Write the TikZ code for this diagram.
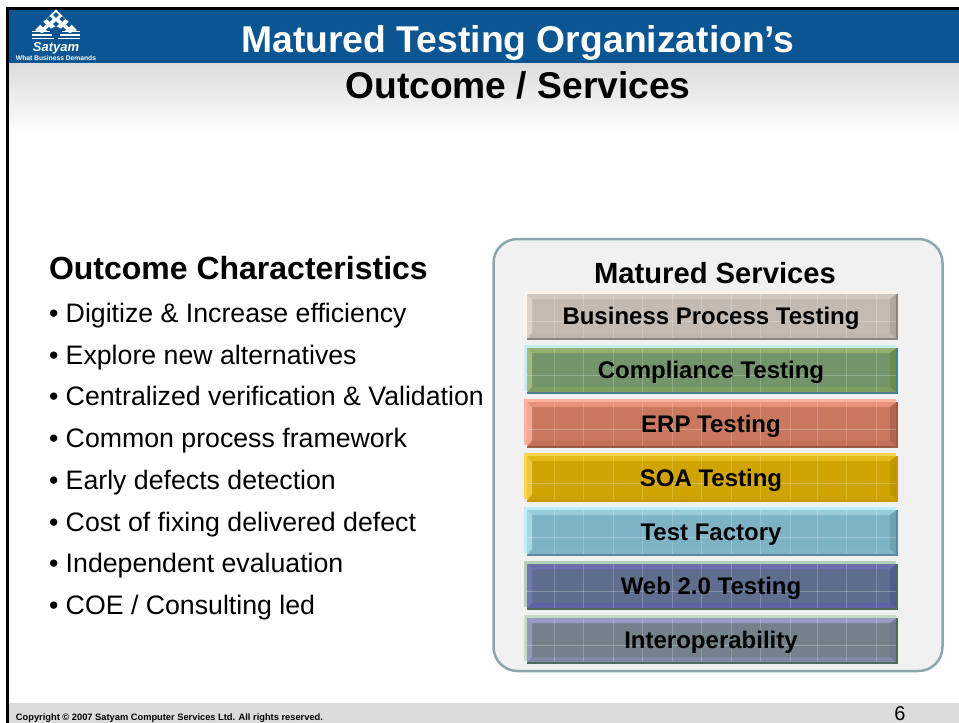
\documentclass[tikz,border=0pt]{standalone}
\usepackage{fontspec}
\setmainfont{Liberation Sans}
\definecolor{hdrblue}{HTML}{0B5592}
\definecolor{panelfill}{HTML}{F1F1F1}
\definecolor{paneledge}{HTML}{8AA8AC}
\definecolor{footgrey}{HTML}{DCDCDC}
\newcommand{\fs}[1]{\fontsize{#1}{#1}\selectfont}
\newcommand{\bevelbar}[8]{%
 % #1 top y, #2 rim, #3 topbevel, #4 left bevel, #5 base, #6 right bevel, #7 bottom bevel, #8 edge
 \definecolor{bbrim}{HTML}{#2}\definecolor{bbtop}{HTML}{#3}\definecolor{bbleft}{HTML}{#4}%
 \definecolor{bbbase}{HTML}{#5}\definecolor{bbright}{HTML}{#6}\definecolor{bbbot}{HTML}{#7}\definecolor{bbedge}{HTML}{#8}%
 \pgfmathsetmacro{\ty}{#1}
 \pgfmathsetmacro{\by}{#1+48}
 \fill[bbrim] (524,\ty) rectangle (896,\by-2);
 \fill[bbbase] (527,\ty+3) rectangle (897,\by);
 \fill[bbtop] (527,\ty+3) -- (897,\ty+3) -- (890,\ty+8) -- (532,\ty+8) -- cycle;
 \fill[bbleft] (527,\ty+3) -- (532,\ty+8) -- (532,\by-6) -- (527,\by) -- cycle;
 \fill[bbright] (897,\ty+3) -- (890,\ty+8) -- (890,\by-6) -- (897,\by) -- cycle;
 \fill[bbbot] (527,\by) -- (532,\by-6) -- (890,\by-6) -- (897,\by) -- cycle;
 \foreach \gx in {554,583.5,613,642.5,672,701.5,731,760.5,790,817,846,876}
   \draw[white,opacity=.2,line width=.8pt] (\gx,\ty+3) -- (\gx,\by);
 \draw[white,opacity=.25,line width=.8pt] (527,\ty+30) -- (897,\ty+30);
 \draw[bbedge,line width=1.2pt] (527,\by) -- (897,\by) -- (897,\ty+3);
}
\begin{document}
\begin{tikzpicture}[x=1pt,y=-1pt,
  txt/.style={inner sep=0pt,outer sep=0pt,anchor=base west,text=black},
  bullet/.style={txt,font=\fs{26.7}},
  barlabel/.style={inner sep=0pt,outer sep=0pt,anchor=base,text=black,font=\bfseries\fs{24}},
  logohole/.style={fill=hdrblue,shift={(#1)}}]
\useasboundingbox (0,0) rectangle (959,723);
\fill[white] (0,0) rectangle (959,723);
% header and footer
\shade[top color=footgrey,bottom color=white] (9,63) rectangle (959,135);
\fill[hdrblue] (9,9) rectangle (959,63);
\fill[footgrey] (9,703) rectangle (959,723);
\fill[black] (6,7) rectangle (959,9.5);
\fill[black] (6,7) rectangle (9,723);
% logo
\fill[white] (56,9.5) -- (77,30) -- (70,33) -- (56,26) -- (42,33) -- (35,30) -- cycle;
\foreach \dx/\dy in {56/15,49.7/19,62.3/19,43/24.5,56/24,69/24.5,49/29.7,63/29.7}
  \fill[hdrblue] (\dx,\dy-2.7) -- (\dx+3,\dy) -- (\dx,\dy+2.7) -- (\dx-3,\dy) -- cycle;
\foreach \sy/\sl/\sr in {31.5/32/50,35/32/52,38.5/32/54}
  \draw[white,line width=1.8pt] (\sl,\sy) -- (\sr,\sy);
\foreach \sy/\sl/\sr in {31.5/62/80,35/60/80,38.5/58/80}
  \draw[white,line width=1.8pt] (\sl,\sy) -- (\sr,\sy);
\node[inner sep=0pt,text=white,anchor=base] (logoname) at (56,51) {\bfseries\itshape\fs{13}Satyam};
\node[inner sep=0pt,text=white,anchor=base] (logotag) at (56,60.5) {\bfseries\fs{6.7}What Business Demands};
% titles
\node[inner sep=0pt,anchor=base,text=white] (title) at (518,52) {\bfseries\fs{37.3}Matured Testing Organization’s};
\node[inner sep=0pt,anchor=base,text=black] (subtitle) at (518,98) {\bfseries\fs{37.2}Outcome / Services};
% left column
\node[txt,font=\bfseries\fs{32}] (chars) at (49,279) {Outcome Characteristics};
\node[bullet] (b1) at (49,322) {• Digitize \& Increase efficiency};
\node[bullet] (b2) at (49,364) {• Explore new alternatives};
\node[bullet] (b3) at (49,405.5) {• Centralized verification \& Validation};
\node[bullet] (b4) at (49,447.5) {• Common process framework};
\node[bullet] (b5) at (49,489) {• Early defects detection};
\node[bullet] (b6) at (49,531) {• Cost of fixing delivered defect};
\node[bullet] (b7) at (49,572.5) {• Independent evaluation};
\node[bullet] (b8) at (49,614.5) {• COE / Consulting led};
% panel
\draw[paneledge,fill=panelfill,line width=2.5pt,rounded corners=24pt] (493.5,239) rectangle (942.5,671);
\node[inner sep=0pt,anchor=base,text=black] (panelhead) at (715,283) {\bfseries\fs{29.2}Matured Services};
\bevelbar{291}{FDF3EA}{D2C8C0}{DCD4CC}{C4BAB2}{B0A69E}{C0B6AE}{8D8580}
\bevelbar{345}{C4EEF2}{95B06F}{A0BB80}{74956B}{6B8A4C}{7F9E60}{4B7D90}
\bevelbar{399}{FFB39E}{E9907A}{F2A890}{C9775F}{B06650}{C27058}{A05A44}
\bevelbar{453}{FFD64C}{E6B91A}{F0C840}{CFA400}{C09600}{CDA200}{C49C00}
\bevelbar{507}{BDEEFA}{9ACCDC}{A8D8E4}{7EB3C6}{70A0B2}{80B4C6}{5F8A9C}
\bevelbar{561}{B4D0B4}{6D6FAD}{6F78B0}{5F6E8E}{4F5C90}{5D62A6}{4E6A58}
\bevelbar{615}{C4DCC4}{9A9CC4}{9498BC}{72818A}{6E7A8C}{8488A8}{4E6A58}
\node[barlabel] (l1) at (711,324.5) {Business Process Testing};
\node[barlabel] (l2) at (711,378.5) {Compliance Testing};
\node[barlabel] (l3) at (711,432.5) {ERP Testing};
\node[barlabel] (l4) at (711,486.5) {SOA Testing};
\node[barlabel] (l5) at (711,540.5) {Test Factory};
\node[barlabel] (l6) at (711,594.5) {Web 2.0 Testing};
\node[barlabel] (l7) at (711,648.5) {Interoperability};
% footer
\node[txt,font=\bfseries\fs{9.3}] (copy) at (16,720) {Copyright © 2007 Satyam Computer Services Ltd. All rights reserved.};
\node[inner sep=0pt,anchor=base,text=black,font=\fs{20}] (pageno) at (900,720) {6};
\end{tikzpicture}
\end{document}
